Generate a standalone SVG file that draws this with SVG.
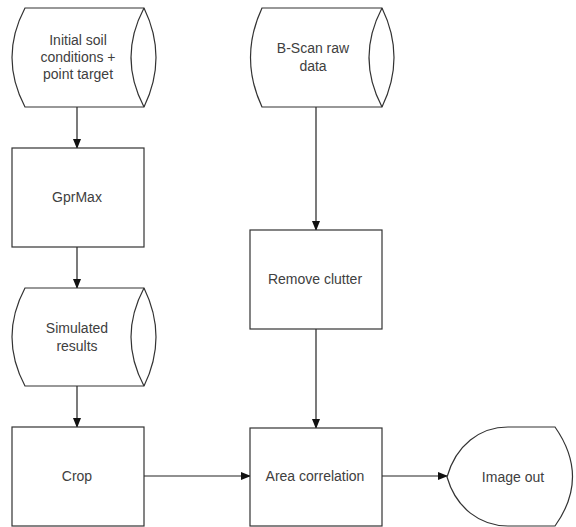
<svg xmlns="http://www.w3.org/2000/svg" width="576" height="527" viewBox="0 0 576 527">
<defs>
<style>
.s{fill:#fff;stroke:#333;stroke-width:1.2}
.i{fill:none;stroke:#333;stroke-width:1.2}
.t{font-family:"Liberation Sans",Arial,sans-serif;font-size:14px;fill:#404040;text-anchor:middle}
.c{fill:none;stroke:#222;stroke-width:1.2;marker-end:url(#a)}
</style>
<marker id="a" markerWidth="10" markerHeight="8" refX="9" refY="4" orient="auto" markerUnits="userSpaceOnUse">
<path d="M0,0 L10,4 L0,8 Z" fill="#111"/>
</marker>
</defs>
<rect width="576" height="527" fill="#fff"/>
<g id="connectors">
<line class="c" x1="77" y1="107" x2="77" y2="148"/>
<line class="c" x1="77" y1="247" x2="77" y2="288"/>
<line class="c" x1="77" y1="386" x2="77" y2="427"/>
<line class="c" x1="316" y1="107" x2="316" y2="230"/>
<line class="c" x1="316" y1="329" x2="316" y2="428"/>
<line class="c" x1="144" y1="476" x2="250" y2="476"/>
<line class="c" x1="382" y1="476" x2="447" y2="476"/>
</g>
<g id="n1">
<path class="s" d="M25,8 L144,8 Q168,57.5 144,107 L25,107 Q-1,57.5 25,8 Z"/>
<path class="i" d="M144,8 Q118,57.5 144,107"/>
<text class="t" x="78" y="45">Initial soil</text>
<text class="t" x="78" y="62">conditions +</text>
<text class="t" x="78" y="79">point target</text>
</g>
<g id="n2">
<rect class="s" x="12" y="148" width="132" height="99"/>
<text class="t" x="77" y="202">GprMax</text>
</g>
<g id="n3">
<path class="s" d="M25,288 L144,288 Q168,337 144,386 L25,386 Q-1,337 25,288 Z"/>
<path class="i" d="M144,288 Q118,337 144,386"/>
<text class="t" x="77" y="333">Simulated</text>
<text class="t" x="77" y="351">results</text>
</g>
<g id="n4">
<rect class="s" x="12" y="427" width="132" height="99"/>
<text class="t" x="77" y="481">Crop</text>
</g>
<g id="n5">
<path class="s" d="M262,8 L382,8 Q406,57.5 382,107 L262,107 Q239,57.5 262,8 Z"/>
<path class="i" d="M382,8 Q356,57.5 382,107"/>
<text class="t" x="313" y="53">B-Scan raw</text>
<text class="t" x="313" y="71">data</text>
</g>
<g id="n6">
<rect class="s" x="250" y="230" width="132" height="99"/>
<text class="t" x="315" y="284">Remove clutter</text>
</g>
<g id="n7">
<rect class="s" x="250" y="428" width="132" height="98"/>
<text class="t" x="315" y="481">Area correlation</text>
</g>
<g id="n8">
<path class="s" d="M447,477 C456,445 480,427 508,427 L555,427 Q590,477 555,526 L508,526 C480,526 456,508 447,477 Z"/>
<text class="t" x="513" y="482">Image out</text>
</g>
</svg>
